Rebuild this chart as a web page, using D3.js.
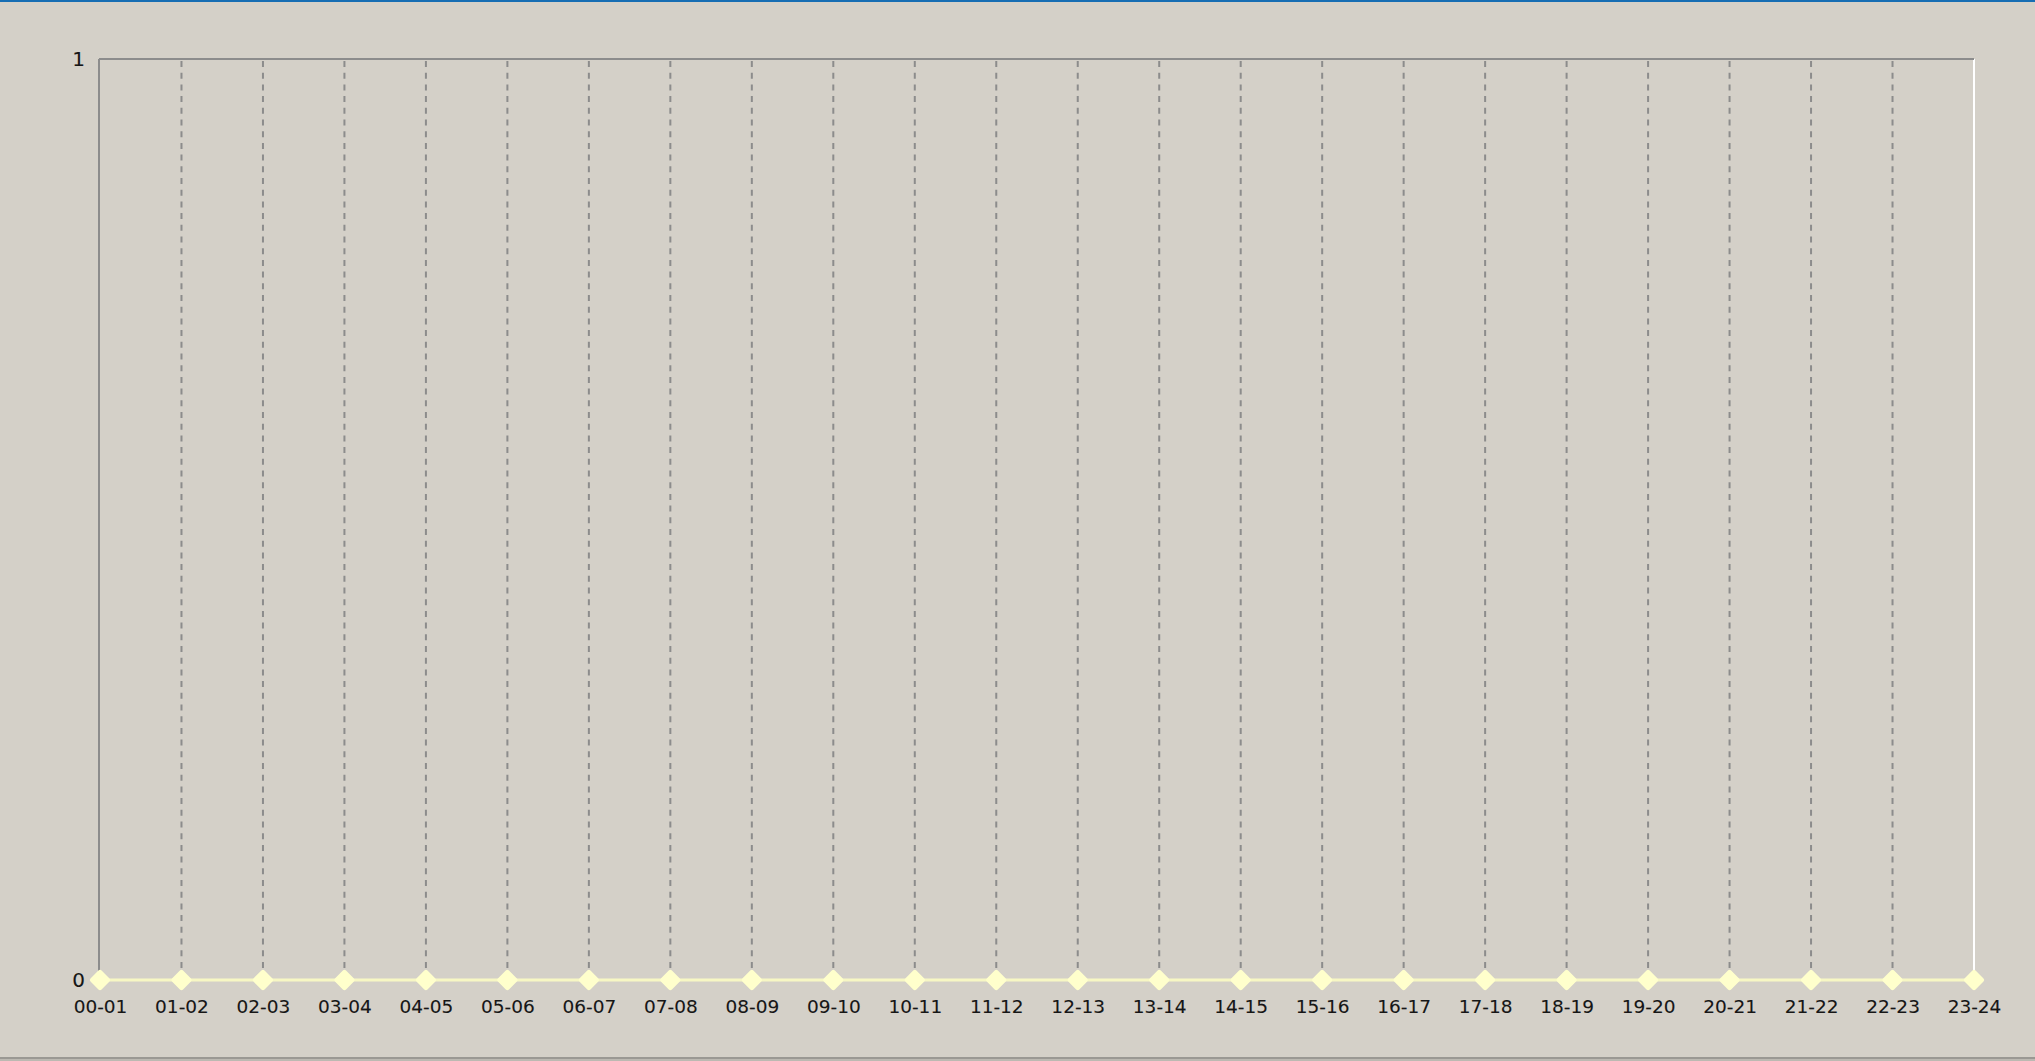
<!DOCTYPE html>
<html><head><meta charset="utf-8">
<script src="https://cdn.jsdelivr.net/npm/d3@7"></script>
<style>
html,body{margin:0;padding:0;background:#d4d0c8;overflow:hidden;}
svg{display:block;}
</style></head>
<body>
<svg id="chart" width="2035" height="1061"></svg>
<script>
const categories = ["00-01","01-02","02-03","03-04","04-05","05-06","06-07","07-08","08-09","09-10","10-11","11-12","12-13","13-14","14-15","15-16","16-17","17-18","18-19","19-20","20-21","21-22","22-23","23-24"];
const values = [0,0,0,0,0,0,0,0,0,0,0,0,0,0,0,0,0,0,0,0,0,0,0,0];
const yTicks = [0, 1];

const W = 2035, H = 1061;
const mLeft = 100, mRight = 1974, mTop = 59, mBottom = 980;
const svg = d3.select("#chart");

svg.append("rect").attr("x",0).attr("y",0).attr("width",W).attr("height",H).attr("fill","#d4d0c8");
svg.append("rect").attr("x",0).attr("y",0).attr("width",W).attr("height",2).attr("fill","#166db3");
svg.append("rect").attr("x",0).attr("y",1057).attr("width",W).attr("height",2).attr("fill","#9a9893");
svg.append("rect").attr("x",0).attr("y",1059).attr("width",W).attr("height",2).attr("fill","#bcb9b2");

const x = d3.scalePoint().domain(categories).range([mLeft, mRight]);
const y = d3.scaleLinear().domain([0, 1]).range([mBottom, mTop]);

// dashed vertical gridlines (interior)
svg.append("g").selectAll("line").data(categories.slice(1, -1)).join("line")
  .attr("x1", d => x(d)).attr("x2", d => x(d))
  .attr("y1", y(1) + 2).attr("y2", y(0))
  .attr("stroke", "#8c8c8c").attr("stroke-width", 2)
  .attr("stroke-dasharray", "6,5.7");

// right white edge
const lastX = x(categories[categories.length-1]);
svg.append("line").attr("x1", lastX).attr("x2", lastX)
  .attr("y1", y(1)).attr("y2", y(0)).attr("stroke", "#ffffff").attr("stroke-width", 2);

// top line & left axis
svg.append("line").attr("x1", mLeft - 1).attr("x2", mRight).attr("y1", y(1)).attr("y2", y(1))
  .attr("stroke", "#8c8c8c").attr("stroke-width", 2);
svg.append("line").attr("x1", mLeft - 1).attr("x2", mLeft - 1).attr("y1", y(1)).attr("y2", y(0))
  .attr("stroke", "#8c8c8c").attr("stroke-width", 2);

const FONT = "'DejaVu Sans', sans-serif";

// y tick labels
const yAxis = d3.axisLeft(y).tickValues(yTicks).tickFormat(d3.format("d")).tickSize(0).tickPadding(0);
const gy = svg.append("g").attr("transform", `translate(${mLeft - 15},0)`).call(yAxis);
gy.select(".domain").remove();
gy.selectAll("text").attr("font-family", FONT).attr("font-size", 20).attr("fill", "#161616")
  .attr("stroke", "#161616").attr("stroke-width", 0.1);

// x tick labels
const xAxis = d3.axisBottom(x).tickSize(0).tickPadding(0);
const gx = svg.append("g").attr("transform", `translate(0,${mBottom + 20})`).call(xAxis);
gx.select(".domain").remove();
gx.selectAll("text").attr("font-family", FONT).attr("font-size", 18.5).attr("fill", "#161616").attr("dy", "0.71em")
  .attr("stroke", "#161616").attr("stroke-width", 0.1);

// line
const line = d3.line().x((d, i) => x(categories[i])).y(d => y(d));
svg.append("path").datum(values).attr("d", line).attr("fill", "none")
  .attr("stroke", "#f7f7c4").attr("stroke-width", 3);

// markers
const sym = d3.symbol().type(d3.symbolSquare).size(125);
svg.append("g").selectAll("path").data(values).join("path")
  .attr("d", sym)
  .attr("transform", (d, i) => `translate(${x(categories[i])},${y(d)}) rotate(45)`)
  .attr("fill", "#ffffcc").attr("stroke", "#ffffcc").attr("stroke-width", 4.5).attr("stroke-linejoin", "round");
</script>
</body></html>
